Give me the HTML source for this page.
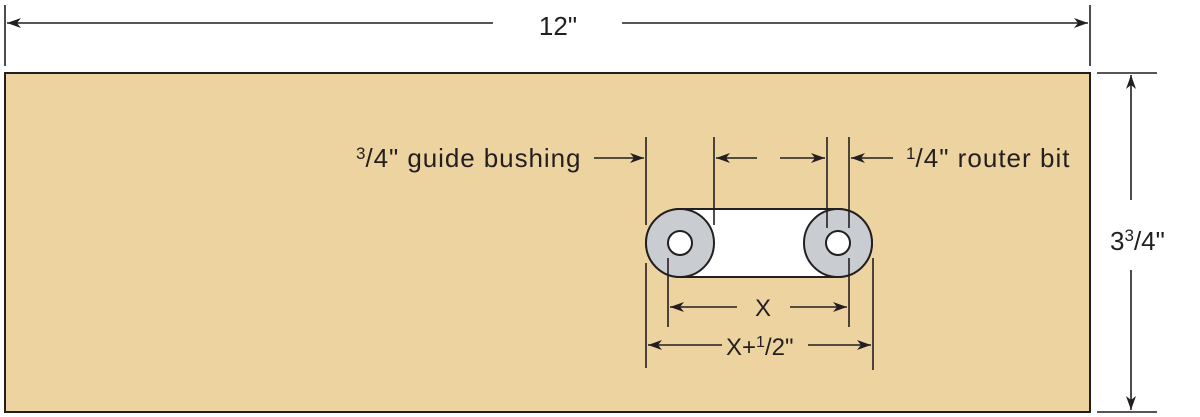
<!DOCTYPE html>
<html><head><style>body{margin:0;background:#fff}svg{display:block}</style></head><body>
<svg width="1200" height="417" viewBox="0 0 1200 417" xmlns="http://www.w3.org/2000/svg" font-family="Liberation Sans, sans-serif" fill="#231f20">
<defs>
<marker id="a" viewBox="0 0 14 10" refX="14" refY="5" markerWidth="14" markerHeight="10" markerUnits="userSpaceOnUse" orient="auto-start-reverse"><path d="M0,0 L14,5 L0,10 L4,5 Z" fill="#231f20"/></marker>
</defs>
<g stroke="#231f20" stroke-width="1.6" fill="none">
<line x1="5" y1="5" x2="5" y2="66"/>
<line x1="1090" y1="5" x2="1090" y2="66"/>
<line x1="493" y1="23" x2="7" y2="23" marker-end="url(#a)"/>
<line x1="622" y1="23" x2="1088" y2="23" marker-end="url(#a)"/>
<rect x="5" y="73" width="1085" height="339" fill="#edd39f" stroke-width="2"/>
<line x1="1097" y1="73" x2="1157" y2="73"/>
<line x1="1097" y1="412" x2="1157" y2="412"/>
<line x1="1131" y1="200" x2="1131" y2="75" marker-end="url(#a)"/>
<line x1="1131" y1="270" x2="1131" y2="410" marker-end="url(#a)"/>
<path d="M680,209 H838 A34,34 0 0 1 838,277 H680 A34,34 0 0 1 680,209 Z" fill="#fff" stroke-width="2"/>
<circle cx="680" cy="243" r="34" fill="#c9cdd2" stroke-width="2"/>
<circle cx="838" cy="243" r="34" fill="#c9cdd2" stroke-width="2"/>
<circle cx="680" cy="243" r="12" fill="#fff" stroke-width="2"/>
<circle cx="838" cy="243" r="12" fill="#fff" stroke-width="2"/>
<line x1="646" y1="137" x2="646" y2="225"/>
<line x1="646" y1="263" x2="646" y2="368"/>
<line x1="714" y1="137" x2="714" y2="225"/>
<line x1="827" y1="137" x2="827" y2="228"/>
<line x1="849" y1="137" x2="849" y2="228"/>
<line x1="849" y1="258" x2="849" y2="327"/>
<line x1="668" y1="258" x2="668" y2="327"/>
<line x1="873" y1="258" x2="873" y2="370"/>
<line x1="594" y1="158" x2="644" y2="158" marker-end="url(#a)"/>
<line x1="757" y1="158" x2="716" y2="158" marker-end="url(#a)"/>
<line x1="780" y1="158" x2="825" y2="158" marker-end="url(#a)"/>
<line x1="893" y1="158" x2="851" y2="158" marker-end="url(#a)"/>
<line x1="737" y1="307" x2="670" y2="307" marker-end="url(#a)"/>
<line x1="790" y1="307" x2="847" y2="307" marker-end="url(#a)"/>
<line x1="722" y1="345" x2="648" y2="345" marker-end="url(#a)"/>
<line x1="808" y1="345" x2="871" y2="345" marker-end="url(#a)"/>
</g>
<text x="558" y="35" font-size="26" text-anchor="middle">12"</text>
<text x="356" y="167" font-size="26"><tspan font-size="17" dy="-8">3</tspan><tspan dy="8" textLength="215" lengthAdjust="spacing">/4" guide bushing</tspan></text>
<text x="906" y="167" font-size="26"><tspan font-size="17" dy="-8">1</tspan><tspan dy="8" textLength="154" lengthAdjust="spacing">/4" router bit</tspan></text>
<text x="763" y="316" font-size="24" text-anchor="middle">X</text>
<text x="726" y="355" font-size="24">X+<tspan font-size="16" dy="-8">1</tspan><tspan dy="8">/2"</tspan></text>
<text x="1110" y="250" font-size="26">3<tspan font-size="17" dy="-9">3</tspan><tspan dy="9">/4"</tspan></text>
</svg>
</body></html>
